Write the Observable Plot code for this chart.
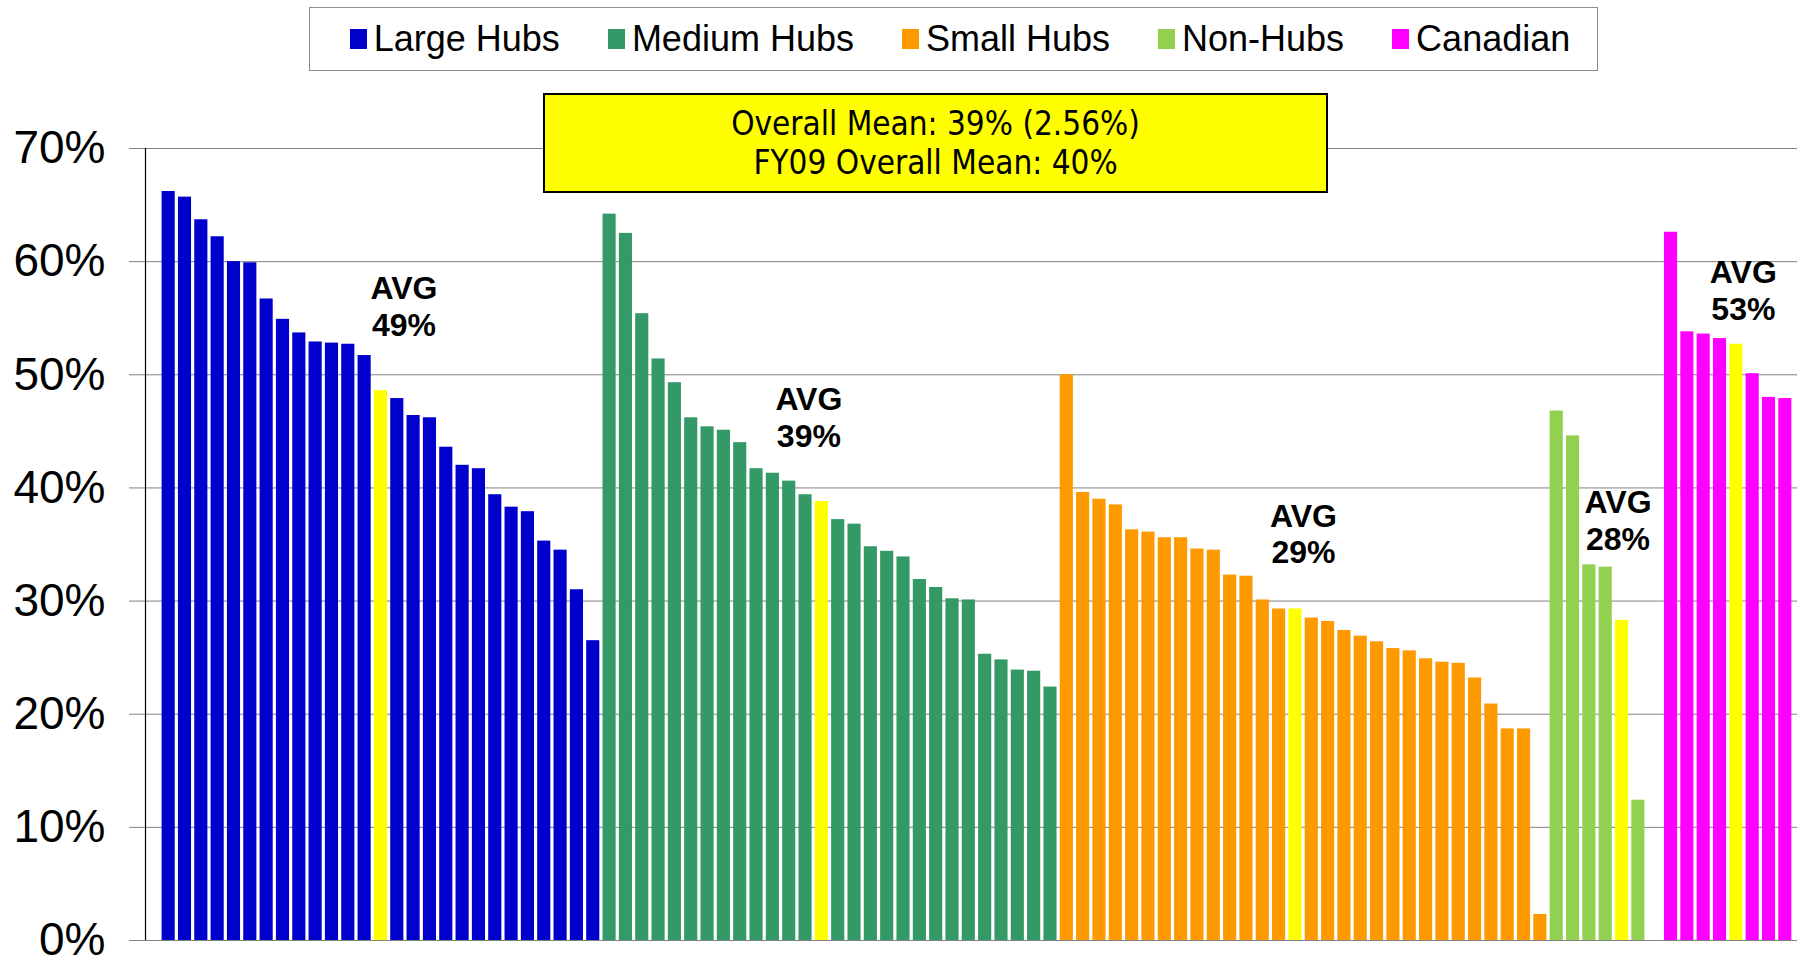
<!DOCTYPE html>
<html>
<head>
<meta charset="utf-8">
<script src="https://cdn.jsdelivr.net/npm/d3@7"></script>
<script src="https://cdn.jsdelivr.net/npm/@observablehq/plot@0.6"></script>
<style>
  html, body { margin: 0; padding: 0; background: #fff; }
  #wrap { position: relative; width: 1797px; height: 958px; overflow: hidden; }
  #chart { position: absolute; left: 0; top: 0; }
  #legend {
    position: absolute; left: 309px; top: 7px;
    border: 1px solid #8c8c8c; display: flex; align-items: center; justify-content: center;
    gap: 48px; font-family: "Liberation Sans", Arial, sans-serif; font-size: 36px; color: #000;
    padding-left: 13px; box-sizing: border-box; width: 1289px; height: 64px;
  }
  .item { display: flex; align-items: center; gap: 7px; white-space: nowrap; }
  .sw { width: 17px; height: 20px; display: inline-block; }
  #note {
    position: absolute; left: 543px; top: 93px; width: 785px; height: 100px; box-sizing: border-box;
    border: 2px solid #000; background: #ffff00; display: flex; flex-direction: column;
    justify-content: center; align-items: center;
    font-family: "Liberation Sans Narrow", "DejaVu Sans Condensed", "Liberation Sans", sans-serif;
    font-size: 33px; line-height: 39px; color: #000;
  }
</style>
</head>
<body>
<div id="wrap">
  <div id="chart"></div>
  <div id="legend"></div>
  <div id="note"></div>
</div>
<script>
// ---- Data (percent values, sorted high to low within each group) ----
const groups = ["Large Hubs", "Medium Hubs", "Small Hubs", "Non-Hubs", "Canadian"];
const groupColors = ["#0000cc", "#339966", "#ff9900", "#92d050", "#ff00ff"];
const avgColor = "#ffff00";

const largeHubs = [66.2, 65.7, 63.7, 62.2, 60.0, 59.9, 56.7, 54.9, 53.7, 52.9, 52.8, 52.7, 51.7,
                   47.9, 46.4, 46.2, 43.6, 42.0, 41.7, 39.4, 38.3, 37.9, 35.3, 34.5, 31.0, 26.5];
const mediumHubs = [64.2, 62.5, 55.4, 51.4, 49.3, 46.2, 45.4, 45.1, 44.0, 41.7, 41.3, 40.6, 39.4,
                    37.2, 36.8, 34.8, 34.4, 33.9, 31.9, 31.2, 30.2, 30.1, 25.3, 24.8, 23.9, 23.8, 22.4];
const smallHubs = [50.0, 39.6, 39.0, 38.5, 36.3, 36.1, 35.6, 35.6, 34.6, 34.5, 32.3, 32.2, 30.1, 29.3,
                   28.5, 28.2, 27.4, 26.9, 26.4, 25.8, 25.6, 24.9, 24.6, 24.5, 23.2, 20.9, 18.7, 18.7, 2.3];
const nonHubs = [46.8, 44.6, 33.2, 33.0, 12.4, 0];
const canadian = [62.6, 53.8, 53.6, 53.2, 50.1, 48.0, 47.9];

const groupAverages = [48.6, 38.8, 29.3, 28.3, 52.7];

const yTicks = [0, 10, 20, 30, 40, 50, 60, 70];
const noteLines = ["Overall Mean: 39% (2.56%)", "FY09 Overall Mean: 40%"];

// ---- Build the bar table: each group's values with its average bar inserted in rank order ----
const groupValues = [largeHubs, mediumHubs, smallHubs, nonHubs, canadian];
const bars = [];
const avgBars = [];
groupValues.forEach((vals, gi) => {
  const avg = groupAverages[gi];
  const k = vals.findIndex(v => v < avg);
  const insertAt = k < 0 ? vals.length : k;
  const ordered = [...vals.slice(0, insertAt), null, ...vals.slice(insertAt)];
  ordered.forEach(v => {
    const slot = bars.length;
    if (v === null) {
      const row = {slot, value: avg, key: "Average", group: groups[gi], avg};
      bars.push(row); avgBars.push(row);
    } else {
      bars.push({slot, value: v, key: groups[gi], group: groups[gi]});
    }
  });
});

// label placement (style): vertical centre (in % units) and horizontal nudge (px)
const labelY = [56.1, 46.3, 36.0, 37.2, 57.5];
const labelDx = [23, -13, 8, -4, 7];

const W = 1797, H = 958;
const plot = Plot.plot({
  width: W, height: H,
  marginLeft: 145, marginRight: 0, marginTop: 148, marginBottom: 18,
  style: {fontFamily: '"Liberation Sans", Arial, sans-serif', background: "transparent", overflow: "visible"},
  x: {type: "band", domain: bars.map(d => d.slot), range: [160, 1793], padding: 0, axis: null},
  y: {domain: [0, 70], axis: null},
  color: {domain: [...groups, "Average"], range: [...groupColors, avgColor]},
  marks: [
    Plot.gridY(yTicks, {stroke: "#808080", strokeOpacity: 1, strokeWidth: 1}),
    Plot.axisY(yTicks, {
      tickFormat: d => d + "%", tickSize: 16, tickPadding: 24, fontSize: 46,
      stroke: "#808080", fill: "#000", label: null
    }),
    Plot.barY(bars, {x: "slot", y: "value", fill: "key", insetLeft: 1.6, insetRight: 1.6}),
    ...avgBars.map((d, i) => Plot.text([d], {
      x: "slot", y: () => labelY[i], text: r => `AVG\n${Math.round(r.avg)}%`,
      fontSize: 32, fontWeight: "bold", lineHeight: 1.15, fill: "#000", dx: labelDx[i]
    }))
  ]
});

// y-axis line drawn with the plot's own y scale
const ys = plot.scale("y");
d3.select(plot).append("line")
  .attr("x1", 145.5).attr("x2", 145.5)
  .attr("y1", ys.apply(70)).attr("y2", ys.apply(0))
  .attr("stroke", "#000").attr("stroke-width", 1.2);

document.getElementById("chart").appendChild(plot);

// legend
const legend = d3.select("#legend");
groups.forEach((g, i) => {
  const it = legend.append("div").attr("class", "item");
  it.append("span").attr("class", "sw").style("background", groupColors[i]);
  it.append("span").text(g);
});

// note box
const note = d3.select("#note");
noteLines.forEach(t => note.append("div").text(t));
</script>
</body>
</html>
